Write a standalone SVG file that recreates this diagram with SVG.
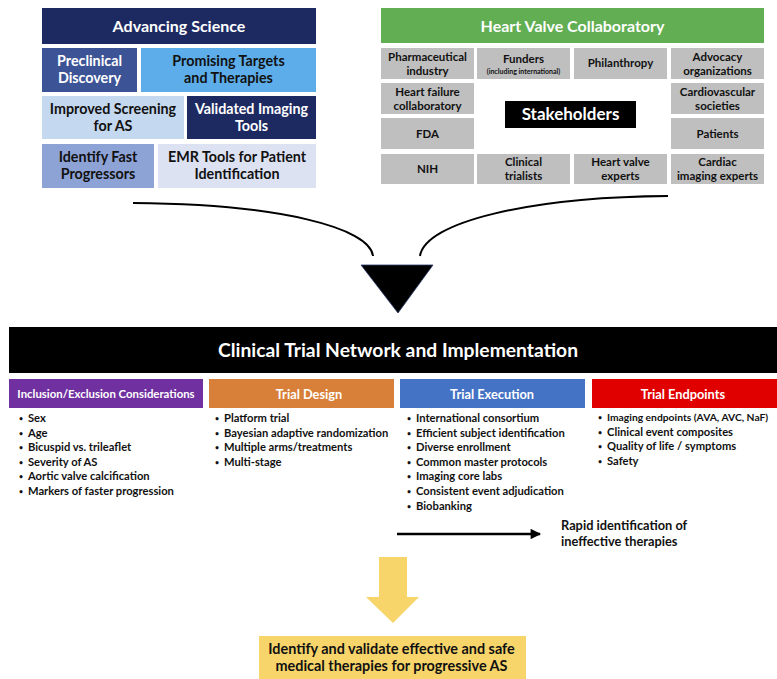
<svg xmlns="http://www.w3.org/2000/svg" width="777" height="679" viewBox="0 0 777 679">
<defs>
<style>
text{font-family:Lato,"Open Sans","DejaVu Sans",sans-serif;font-weight:700;}
.c{text-anchor:middle;}
.w{fill:#ffffff;}
.k{fill:#111111;}
.h1{font-size:16px;}
.h2{font-size:14.3px;}
.h3{font-size:12.8px;}
.g{font-size:11.5px;}
.b{font-size:11.2px;fill:#111111;}
.d{font-size:7px;fill:#111111;}
.gray{fill:#bfbfbf;}
.curve{fill:none;stroke:#000;stroke-width:2;}
</style>
<marker id="ah" viewBox="0 0 10 10" refX="9" refY="5" markerWidth="4.6" markerHeight="4" orient="auto" markerUnits="strokeWidth">
<path d="M0,0 L10,5 L0,10 z" fill="#000"/>
</marker>
</defs>
<rect width="777" height="679" fill="#ffffff"/>

<g id="advancing-science">
<rect x="42" y="8" width="274" height="36" fill="#1d2a61"/>
<text class="c w h1" x="179" y="32">Advancing Science</text>
</g>
<g id="preclinical">
<rect x="42" y="48" width="95" height="44" fill="#3c5396"/>
<text class="c w h2" x="89.5" y="66">Preclinical</text>
<text class="c w h2" x="89.5" y="83">Discovery</text>
</g>
<g id="promising">
<rect x="141" y="48" width="175" height="44" fill="#5dadea"/>
<text class="c k h2" x="228.5" y="66">Promising Targets</text>
<text class="c k h2" x="228.5" y="83">and Therapies</text>
</g>
<g id="screening">
<rect x="42" y="96" width="142" height="43" fill="#c4d8ef"/>
<text class="c k h2" x="113" y="114">Improved Screening</text>
<text class="c k h2" x="113" y="131">for AS</text>
</g>
<g id="imaging-tools">
<rect x="187" y="96" width="129" height="43" fill="#1d2a61"/>
<text class="c w h2" x="251.5" y="114">Validated Imaging</text>
<text class="c w h2" x="251.5" y="131">Tools</text>
</g>
<g id="fast-progressors">
<rect x="42" y="144" width="112" height="44" fill="#8ea3d5"/>
<text class="c k h2" x="98" y="162">Identify Fast</text>
<text class="c k h2" x="98" y="179">Progressors</text>
</g>
<g id="emr-tools">
<rect x="158" y="144" width="158" height="44" fill="#dce2f2"/>
<text class="c k h2" x="237" y="162">EMR Tools for Patient</text>
<text class="c k h2" x="237" y="179">Identification</text>
</g>

<g id="heart-valve-collaboratory">
<rect x="381" y="8" width="383" height="35" fill="#62ae53"/>
<text class="c w h1" x="572.5" y="32">Heart Valve Collaboratory</text>
</g>
<g id="pharma">
<rect class="gray" x="381" y="48" width="93" height="31"/>
<text class="c k g" x="427.5" y="61">Pharmaceutical</text>
<text class="c k g" x="427.5" y="75">industry</text>
</g>
<g id="funders">
<rect class="gray" x="477" y="48" width="93" height="31"/>
<text class="c k g" x="523.5" y="63">Funders</text>
<text class="c k" x="523.5" y="74" font-size="7px">(including international)</text>
</g>
<g id="philanthropy">
<rect class="gray" x="574" y="48" width="93" height="31"/>
<text class="c k g" x="620.5" y="67">Philanthropy</text>
</g>
<g id="advocacy">
<rect class="gray" x="671" y="48" width="93" height="31"/>
<text class="c k g" x="717.5" y="61">Advocacy</text>
<text class="c k g" x="717.5" y="75">organizations</text>
</g>
<g id="heart-failure">
<rect class="gray" x="381" y="83" width="93" height="31"/>
<text class="c k g" x="427.5" y="96">Heart failure</text>
<text class="c k g" x="427.5" y="110">collaboratory</text>
</g>
<g id="cardiovascular">
<rect class="gray" x="671" y="83" width="93" height="31"/>
<text class="c k g" x="717.5" y="96">Cardiovascular</text>
<text class="c k g" x="717.5" y="110">societies</text>
</g>
<g id="fda">
<rect class="gray" x="381" y="118" width="93" height="31"/>
<text class="c k g" x="427.5" y="138">FDA</text>
</g>
<g id="patients">
<rect class="gray" x="671" y="118" width="93" height="31"/>
<text class="c k g" x="717.5" y="138">Patients</text>
</g>
<g id="nih">
<rect class="gray" x="381" y="154" width="93" height="30"/>
<text class="c k g" x="427.5" y="173">NIH</text>
</g>
<g id="clinical-trialists">
<rect class="gray" x="477" y="154" width="93" height="30"/>
<text class="c k g" x="523.5" y="166">Clinical</text>
<text class="c k g" x="523.5" y="180">trialists</text>
</g>
<g id="heart-valve-experts">
<rect class="gray" x="574" y="154" width="93" height="30"/>
<text class="c k g" x="620.5" y="166">Heart valve</text>
<text class="c k g" x="620.5" y="180">experts</text>
</g>
<g id="cardiac-imaging">
<rect class="gray" x="671" y="154" width="93" height="30"/>
<text class="c k g" x="717.5" y="166">Cardiac</text>
<text class="c k g" x="717.5" y="180">imaging experts</text>
</g>
<g id="stakeholders">
<rect x="505" y="101" width="131" height="27" fill="#000000"/>
<text class="c w" x="570.5" y="120" font-size="17px">Stakeholders</text>
</g>

<g id="connectors">
<path class="curve" d="M133,203 C280,204 370,228 373,256"/>
<path class="curve" d="M668,196 C530,197 425,222 420,256"/>
<polygon points="361,265 433,265 398,313" fill="#000000" stroke="#2b3a6b" stroke-width="0.8"/>
<line x1="397" y1="534" x2="540" y2="534" stroke="#000" stroke-width="2.6" marker-end="url(#ah)"/>
<polygon points="379,557 407,557 407,597 419,597 393,623 366,597 379,597" fill="#f7d56a"/>
</g>

<g id="clinical-trial-network">
<rect x="9" y="327" width="768" height="46" fill="#000000"/>
<text class="c w" x="398" y="357" font-size="19.3px">Clinical Trial Network and Implementation</text>
</g>

<g id="inclusion">
<rect x="9" y="379" width="194" height="29" fill="#7030a0"/>
<text class="c w" x="106" y="397.5" font-size="11.4px">Inclusion/Exclusion Considerations</text>
<text class="d" x="19" y="421">•</text><text class="b" x="28" y="422">Sex</text>
<text class="d" x="19" y="435.6">•</text><text class="b" x="28" y="436.6">Age</text>
<text class="d" x="19" y="450.2">•</text><text class="b" x="28" y="451.2">Bicuspid vs. trileaflet</text>
<text class="d" x="19" y="464.8">•</text><text class="b" x="28" y="465.8">Severity of AS</text>
<text class="d" x="19" y="479.4">•</text><text class="b" x="28" y="480.4">Aortic valve calcification</text>
<text class="d" x="19" y="494">•</text><text class="b" x="28" y="495">Markers of faster progression</text>
</g>

<g id="trial-design">
<rect x="209" y="379" width="185" height="29" fill="#d8803a"/>
<text class="c w h3" x="309" y="398.5">Trial Design</text>
<text class="d" x="215" y="421">•</text><text class="b" x="224" y="422">Platform trial</text>
<text class="d" x="215" y="435.6">•</text><text class="b" x="224" y="436.6">Bayesian adaptive randomization</text>
<text class="d" x="215" y="450.2">•</text><text class="b" x="224" y="451.2">Multiple arms/treatments</text>
<text class="d" x="215" y="464.8">•</text><text class="b" x="224" y="465.8">Multi-stage</text>
</g>

<g id="trial-execution">
<rect x="400" y="379" width="185" height="29" fill="#4472c4"/>
<text class="c w h3" x="492" y="398.5">Trial Execution</text>
<text class="d" x="407" y="421">•</text><text class="b" x="416" y="422">International consortium</text>
<text class="d" x="407" y="435.6">•</text><text class="b" x="416" y="436.6">Efficient subject identification</text>
<text class="d" x="407" y="450.2">•</text><text class="b" x="416" y="451.2">Diverse enrollment</text>
<text class="d" x="407" y="464.8">•</text><text class="b" x="416" y="465.8">Common master protocols</text>
<text class="d" x="407" y="479.4">•</text><text class="b" x="416" y="480.4">Imaging core labs</text>
<text class="d" x="407" y="494">•</text><text class="b" x="416" y="495">Consistent event adjudication</text>
<text class="d" x="407" y="508.6">•</text><text class="b" x="416" y="509.6">Biobanking</text>
</g>

<g id="trial-endpoints">
<rect x="592" y="379" width="185" height="29" fill="#e00000"/>
<text class="c w h3" x="683" y="398.5">Trial Endpoints</text>
<text class="d" x="598" y="420">•</text><text class="k" x="607" y="421" font-size="10.3px">Imaging endpoints (AVA, AVC, NaF)</text>
<text class="d" x="598" y="434.6">•</text><text class="b" x="607" y="435.6">Clinical event composites</text>
<text class="d" x="598" y="449.2">•</text><text class="b" x="607" y="450.2">Quality of life / symptoms</text>
<text class="d" x="598" y="463.8">•</text><text class="b" x="607" y="464.8">Safety</text>
</g>

<g id="rapid-identification">
<text class="k" x="561" y="530" font-size="12.8px">Rapid identification of</text>
<text class="k" x="561" y="546" font-size="12.8px">ineffective therapies</text>
</g>

<g id="outcome">
<rect x="259" y="636" width="267" height="43" fill="#f7d56a"/>
<text class="c k" x="391.5" y="654" font-size="14.4px">Identify and validate effective and safe</text>
<text class="c k" x="391.5" y="671" font-size="14.4px">medical therapies for progressive AS</text>
</g>
</svg>
